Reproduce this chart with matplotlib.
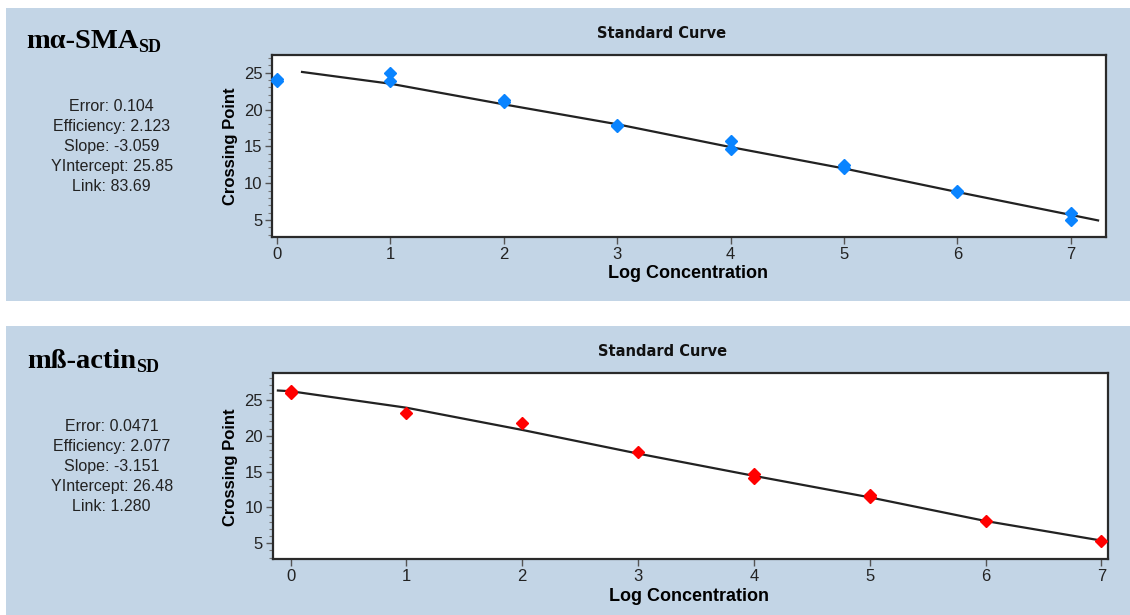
import matplotlib
matplotlib.use("Agg")
import matplotlib.pyplot as plt
from matplotlib.patches import Rectangle
from matplotlib.text import Annotation
from matplotlib.ticker import MultipleLocator

# valores leidos de la imagen
# panel superior (ma-SMA)
x_sma = [0, 0, 1, 1, 2, 2, 3, 3, 4, 4, 5, 5, 6, 6, 7, 7]
cp_sma = [24.2, 23.9, 25.0, 23.9, 21.3, 21.0, 17.9, 17.7, 15.7, 14.6, 12.5, 12.0, 9.0, 8.8, 6.0, 5.0]
fit_x_sma = [0.22, 1, 2, 3, 4, 5, 6, 7, 7.24]
fit_y_sma = [25.1, 23.5, 20.7, 18.0, 14.9, 12.0, 8.8, 5.7, 4.95]
stats_sma = ["Error: 0.104", "Efficiency: 2.123", "Slope: -3.059", "YIntercept: 25.85", "Link: 83.69"]

# panel inferior (mB-actin)
x_act = [0, 0, 1, 2, 3, 4, 4, 5, 5, 6, 7]
cp_act = [26.2, 26.0, 23.2, 21.7, 17.7, 14.6, 14.1, 11.7, 11.4, 8.1, 5.3]
fit_x_act = [-0.11, 0, 1, 2, 3, 4, 5, 6, 6.99]
fit_y_act = [26.3, 26.2, 23.9, 20.8, 17.5, 14.4, 11.4, 8.1, 5.4]
stats_act = ["Error: 0.0471", "Efficiency: 2.077", "Slope: -3.151", "YIntercept: 26.48", "Link: 1.280"]

x_ticks = [0, 1, 2, 3, 4, 5, 6, 7]
y_ticks = [5, 10, 15, 20, 25]

W, H = 1130, 615
fondo = "#c3d5e6"

fig = plt.figure(figsize=(W / 100, H / 100), dpi=100)
fig.patch.set_facecolor("white")

# paneles azules
fig.add_artist(Rectangle((6 / W, 1 - 301 / H), 1, 293 / H, transform=fig.transFigure,
                         facecolor=fondo, edgecolor="none", zorder=0))
fig.add_artist(Rectangle((6 / W, 0), 1, 1 - 326 / H, transform=fig.transFigure,
                         facecolor=fondo, edgecolor="none", zorder=0))


def panel(rect, x, cp, fx, fy, color, xlim, ylim, title_x):
    ax = fig.add_axes(rect)
    ax.set_facecolor("white")
    ax.plot(fx, fy, color="#222222", lw=1.6, zorder=2)
    ax.plot(x, cp, linestyle="none", marker="D", markersize=6.5, color=color,
            markeredgecolor=color, zorder=3, clip_on=False)
    ax.set_xlim(*xlim)
    ax.set_ylim(*ylim)
    ax.set_xticks(x_ticks)
    ax.set_yticks(y_ticks)
    ax.yaxis.set_minor_locator(MultipleLocator(1))
    for s in ax.spines.values():
        s.set_linewidth(1.6)
        s.set_color("#2a2a2a")
    ax.tick_params(axis="both", which="major", direction="out", length=5, width=1,
                   color="#555555", labelcolor="#222222", labelsize=12, pad=2)
    ax.tick_params(axis="y", which="minor", direction="out", length=3, width=0.8, color="#777777")
    for lab in ax.get_xticklabels() + ax.get_yticklabels():
        lab.set_fontfamily("Liberation Sans")
    ax.set_xlabel("Log Concentration", fontsize=13, fontweight="bold", family="Liberation Sans")
    ax.xaxis.label.set_va("center")
    ax.xaxis.set_label_coords(0.499, -0.2)
    ax.set_ylabel("Crossing Point", fontsize=12, fontweight="bold", family="Liberation Sans")
    ax.yaxis.label.set_va("center")
    ax.yaxis.set_label_coords(-0.05, 0.497)
    ax.text(title_x, 1.116, "Standard Curve", transform=ax.transAxes, ha="center", va="center",
            fontsize=10.5, fontweight="bold", family="DejaVu Sans", color="#111111")
    return ax


panel([272 / W, 1 - 237 / H, 834 / W, 182 / H], x_sma, cp_sma, fit_x_sma, fit_y_sma,
      "#0a84ff", (-0.045, 7.31), (2.7, 27.4), 0.467)
panel([272.7 / W, 1 - 559 / H, 835 / W, 185.7 / H], x_act, cp_act, fit_x_act, fit_y_act,
      "#ff0000", (-0.155, 7.055), (2.8, 28.7), 0.4675)


def encabezado(x0, base, texto):
    t = fig.text(x0 / W, 1 - base / H, texto, ha="left", va="baseline", fontsize=20.5,
                 fontweight="bold", family="Liberation Serif", color="black")
    fig.add_artist(Annotation("SD", xy=(1, 0), xycoords=t, xytext=(0, -1.5),
                              textcoords="offset points", ha="left", va="bottom",
                              fontsize=13, fontweight="bold", family="Liberation Serif"))


encabezado(26, 48, "mα-SMA")
encabezado(27, 368, "mß-actin")

for i, s in enumerate(stats_sma):
    fig.text(111.7 / W, 1 - (106.7 + 20 * i) / H, s, ha="center", va="center",
             fontsize=11.5, family="Liberation Sans", color="#222222")
for i, s in enumerate(stats_act):
    fig.text(111.7 / W, 1 - (426.7 + 20 * i) / H, s, ha="center", va="center",
             fontsize=11.5, family="Liberation Sans", color="#222222")

fig.savefig("out.png", dpi=100, facecolor=fig.get_facecolor())
